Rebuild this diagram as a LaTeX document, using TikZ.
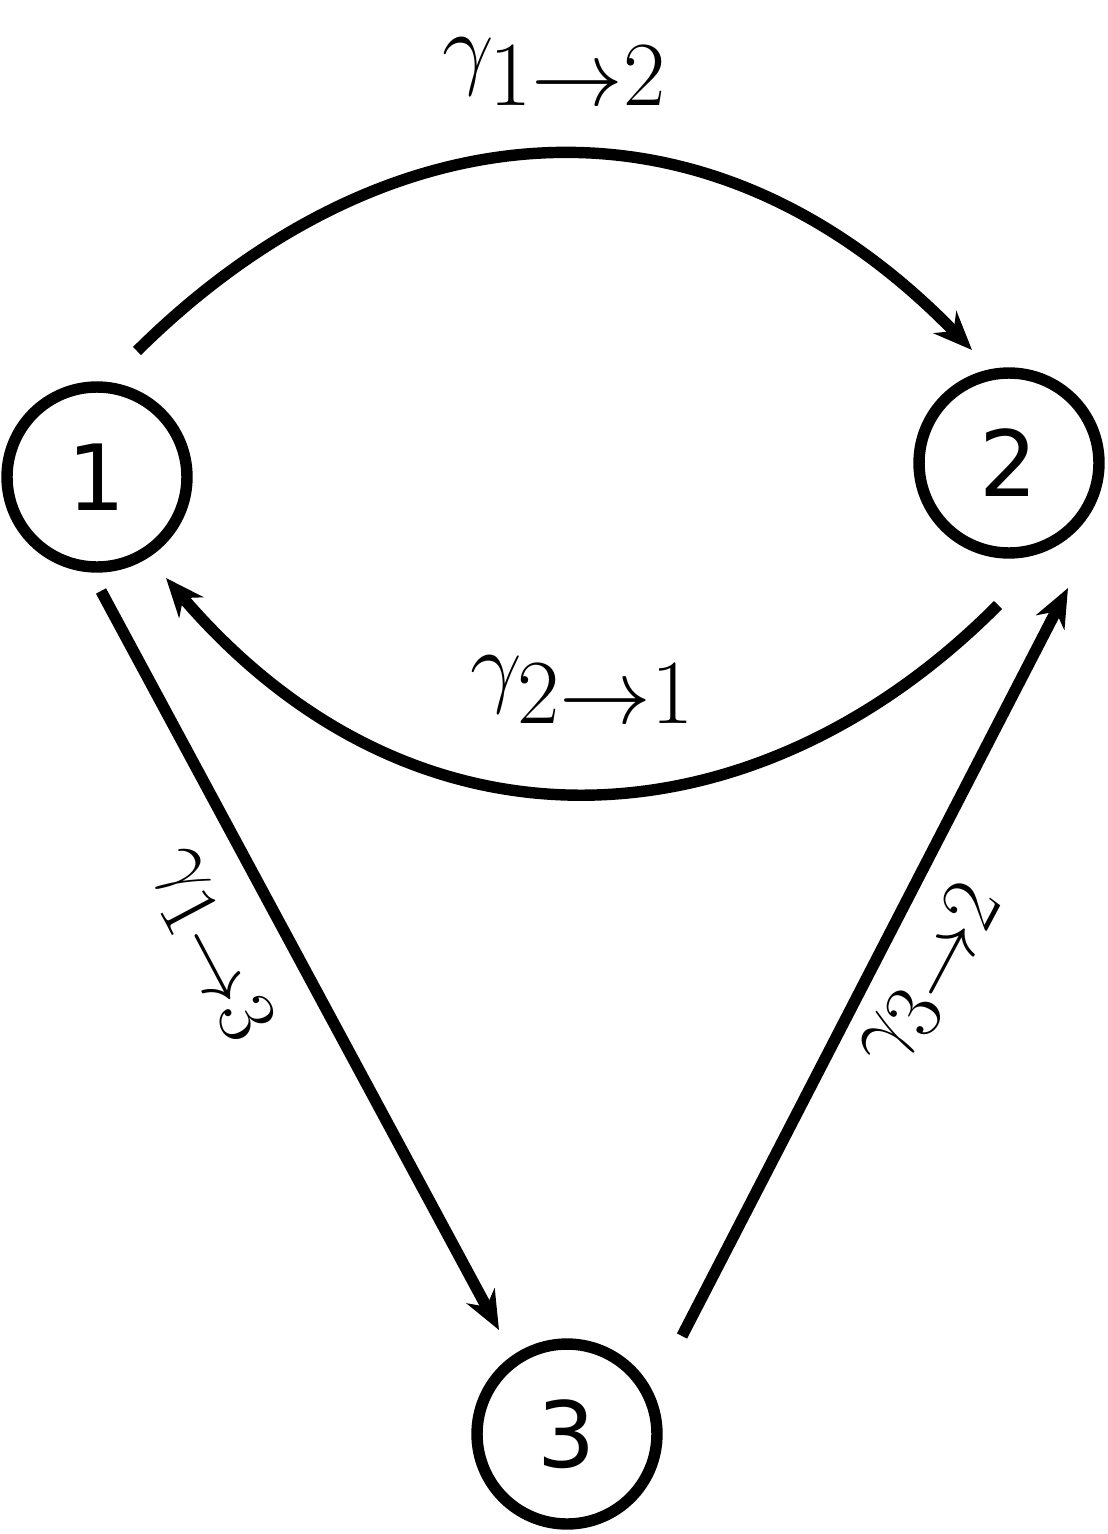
\documentclass[tikz,border=0pt]{standalone}
\usepackage{fontspec}
\newfontfamily\numfont{DejaVu Sans}
\usetikzlibrary{arrows.meta}
\begin{document}
\begin{tikzpicture}[x=0.02cm,y=-0.02cm,
  st/.style={circle,draw,line width=6.5pt,minimum size=3.6cm,inner sep=0pt,font=\numfont\fontsize{52}{60}\selectfont},
  ed/.style={line width=6.5pt,-{Stealth[length=22pt,width=18pt,inset=7pt]}},
  lb/.style={font=\fontsize{56}{64}\selectfont,scale=2.1}]
\useasboundingbox (0,0) rectangle (1107,1534);
\node[st] (n1) at (97,477) {1};
\node[st] (n2) at (1009,463) {2};
\node[st] (n3) at (567,1434) {3};
\coordinate (a1) at (137,351); \coordinate (a2) at (972,350);
\draw[ed] (a1) .. controls (380,110) and (700,70) .. (a2);
\coordinate (b1) at (998,605); \coordinate (b2) at (166,578);
\draw[ed] (b1) .. controls (760,845) and (420,875) .. (b2);
\coordinate (c1) at (101,591); \coordinate (c2) at (499,1330);
\draw[ed] (c1) -- (c2);
\coordinate (d1) at (682,1336); \coordinate (d2) at (1068,588);
\draw[ed] (d1) -- (d2);
\node[lb] (l12) at (555,72) {$\gamma_{1\to2}$};
\node[lb] (l21) at (583,690) {$\gamma_{2\to1}$};
\node[lb,scale=0.9,rotate=-62] (l13) at (212,945) {$\gamma_{1\to3}$};
\node[lb,scale=0.9,rotate=62] (l32) at (930,975) {$\gamma_{3\to2}$};
\end{tikzpicture}
\end{document}
